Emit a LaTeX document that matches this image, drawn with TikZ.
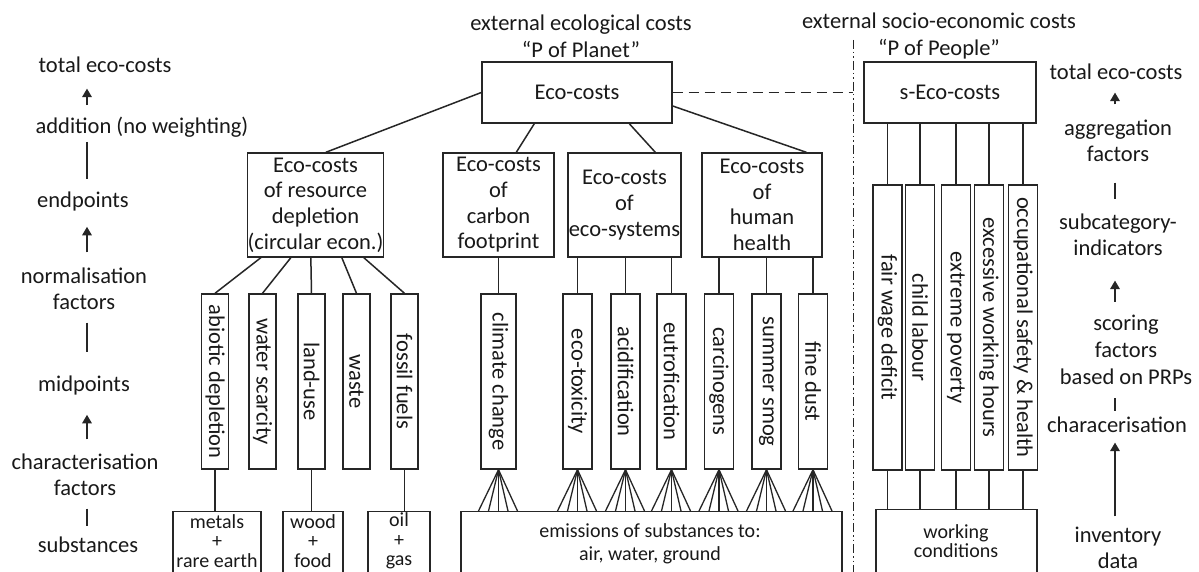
\documentclass[tikz,border=0pt]{standalone}
\usepackage{fontspec}
\setmainfont{Carlito}
\usetikzlibrary{arrows.meta,calc}
\begin{document}
\begin{tikzpicture}[x=1pt,y=-1pt,
  txt/.style={font=\fontsize{22.5}{26}\selectfont, align=center, inner sep=0pt, text=black!90},
  sm/.style={font=\fontsize{20}{19.5}\selectfont, align=center, inner sep=0pt, text=black!90},
  box/.style={draw=black!85, line width=1.4pt, inner sep=0pt, font=\fontsize{22.5}{25.7}\selectfont, align=center, text=black!90},
  vbox/.style={draw=black!85, line width=1.4pt, inner sep=0pt, rotate=-90, font=\fontsize{22.5}{26}\selectfont, text=black!90},
  ln/.style={draw=black!85, line width=1.5pt},
  fan/.style={draw=black!85, line width=1.3pt},
  arr/.style={draw=black!85, line width=1.6pt, -{Triangle[length=8.5pt,width=9.5pt]}},
  sepline/.style={draw=black!85, line width=1pt, dash pattern=on 9pt off 3pt on 1.5pt off 3pt on 1.5pt off 3pt},
  dline/.style={draw=black!85, line width=1.4pt, dash pattern=on 10pt off 6pt}
]
\path[use as bounding box] (0,0) rectangle (1199,572);
\clip (0,0) rectangle (1199,572);
\fill[white] (0,0) rectangle (1199,572);

% ---------- left column ----------
\coordinate (lax) at (87,0);
\node[txt] (lt) at (105,65) {total eco-costs};
\node[txt] (lad) at (142,127) {addition (no weighting)};
\node[txt] (lep) at (83,202) {endpoints};
\node[txt] (lnf) at (84,289) {normalisation\\factors};
\node[txt] (lmp) at (84,385) {midpoints};
\node[txt] (lcf) at (85,475) {characterisation\\factors};
\node[txt] (lsu) at (88,545) {substances};

\draw[arr, shorten <=11.5pt, shorten >=15.5pt] (lax |- lad.north) -- (lax |- lt.south);
\draw[ln, shorten <=4.5pt, shorten >=13pt] (lax |- lad.south) -- (lax |- lep.north);
\draw[arr, shorten <=15.5pt, shorten >=15pt] (lax |- lnf.north) -- (lax |- lep.south);
\draw[ln, shorten <=12.5pt, shorten >=23pt] (lax |- lnf.south) -- (lax |- lmp.north);
\draw[arr, shorten <=14.5pt, shorten >=20pt] (lax |- lcf.north) -- (lax |- lmp.south);
\draw[ln, shorten <=12.5pt, shorten >=10.5pt] (lax |- lcf.south) -- (lax |- lsu.north);

% ---------- right column ----------
\coordinate (rax) at (1115,0);
\node[txt] (rt) at (1116,72) {total eco-costs};
\node[txt] (rag) at (1118,141) {aggregation\\factors};
\node[txt] (rsi) at (1118,235) {subcategory-\\indicators};
\node[txt, font=\fontsize{22.5}{27}\selectfont] (rsf) at (1126,350) {scoring\\factors\\based on PRPs};
\node[txt] (rch) at (1117,425) {characerisation};
\node[txt] (rid) at (1118,548) {inventory\\data};

\draw[arr, shorten <=15.5pt, shorten >=12.5pt] (rax |- rag.north) -- (rax |- rt.south);
\draw[ln, shorten <=20.5pt, shorten >=14.5pt] (rax |- rag.south) -- (rax |- rsi.north);
\draw[arr, shorten <=13pt, shorten >=24.5pt] (rax |- rsf.north) -- (rax |- rsi.south);
\draw[ln, shorten <=13pt, shorten >=5.5pt] (rax |- rsf.south) -- (rax |- rch.north);
\draw[arr, shorten <=10.5pt, shorten >=9.5pt] (rax |- rid.north) -- (rax |- rch.south);

% ---------- headers ----------
\node[txt, font=\fontsize{22.5}{27}\selectfont] (hpl) at (581,36.5) {external ecological costs\\“P of Planet”};
\node[txt, font=\fontsize{22.5}{27}\selectfont] (hpe) at (939,36.5) {external socio-economic costs\\“P of People”};

% ---------- separator ----------
\coordinate (st) at (853,40);
\coordinate (sb) at (853,572);
\draw[sepline] (st) -- (sb);

% ---------- top boxes ----------
\node[box, minimum width=190, minimum height=61] (eco) at (577,92.5) {Eco-costs};
\node[box, minimum width=172, minimum height=61] (seco) at (950,92.5) {s-Eco-costs};
\draw[dline] (eco.east) -- (eco.east -| st);

% ---------- second level ----------
\node[box, minimum width=135, minimum height=104] (res) at (315.5,205) {Eco-costs\\of resource\\depletion\\(circular econ.)};
\node[box, minimum width=111, minimum height=104] (car) at (498.5,205) {Eco-costs\\of\\carbon\\footprint};
\node[box, minimum width=113, minimum height=104] (sys) at (624.5,205) {Eco-costs\\of\\eco-systems};
\node[box, minimum width=120, minimum height=104] (hh) at (762,205) {Eco-costs\\of\\human\\health};

\draw[ln] (eco.west) -- ($(res.north west)+(79,0)$);
\draw[ln] ($(eco.south west)+(53,0)$) -- ($(car.north west)+(74,0)$);
\draw[ln] ($(eco.south west)+(148,0)$) -- ($(sys.north west)+(88,0)$);
\draw[ln] ($(eco.east)+(0,13.5)$) -- ($(hh.north west)+(105,0)$);

% ---------- resource indicators ----------
\node[vbox, minimum width=175, minimum height=27] (abi) at (215,381.5) {abiotic depletion};
\node[vbox, minimum width=175, minimum height=27] (wat) at (262.5,381.5) {water scarcity};
\node[vbox, minimum width=175, minimum height=27] (lan) at (311.5,381.5) {land-use};
\node[vbox, minimum width=175, minimum height=27] (was) at (356.5,381.5) {waste};
\node[vbox, minimum width=175, minimum height=27] (fos) at (404.5,381.5) {fossil fuels};

\draw[ln] ($(res.south west)+(14,0)$) -- (abi.west);
\draw[ln] ($(res.south west)+(44,0)$) -- (wat.west);
\draw[ln] ($(res.south west)+(64,0)$) -- (lan.west);
\draw[ln] ($(res.south west)+(95,0)$) -- (was.west);
\draw[ln] ($(res.south west)+(117,0)$) -- (fos.west);

% ---------- planet indicators ----------
\node[vbox, minimum width=175, minimum height=35] (cc) at (498.5,381.5) {climate change};
\node[vbox, minimum width=175, minimum height=29] (tox) at (577.5,381.5) {eco-toxicity};
\node[vbox, minimum width=175, minimum height=29] (aci) at (625.5,381.5) {acidification};
\node[vbox, minimum width=175, minimum height=29] (eut) at (671.5,381.5) {eutrofication};
\node[vbox, minimum width=175, minimum height=29] (crc) at (719,381.5) {carcinogens};
\node[vbox, minimum width=175, minimum height=29] (smg) at (766.5,381.5) {summer smog};
\node[vbox, minimum width=175, minimum height=29] (fdu) at (813,381.5) {fine dust};

\draw[ln] (car.south -| cc.west) -- (cc.west);
\foreach \n in {tox,aci,eut} \draw[ln] (sys.south -| \n.west) -- (\n.west);
\foreach \n in {crc,smg,fdu} \draw[ln] (hh.south -| \n.west) -- (\n.west);

% ---------- social indicators ----------
\node[vbox, minimum width=285, minimum height=29] (fwd) at (887.5,327.5) {fair wage deficit};
\node[vbox, minimum width=285, minimum height=29] (chl) at (920,327.5) {child labour};
\node[vbox, minimum width=285, minimum height=29] (exp) at (956,327.5) {extreme poverty};
\node[vbox, minimum width=285, minimum height=29] (exw) at (989,327.5) {excessive working hours};
\node[vbox, minimum width=285, minimum height=29] (ocs) at (1023,327.5) {occupational safety \& health};

\foreach \n in {fwd,chl,exp,exw,ocs} \draw[ln] (seco.south -| \n.west) -- (\n.west);

% ---------- bottom boxes ----------
\node[box, anchor=north, minimum width=88, minimum height=90] (met) at (217,511) {};
\node[box, anchor=north, minimum width=60, minimum height=90] (woo) at (313,511) {};
\node[box, anchor=north, minimum width=62, minimum height=90] (oil) at (399,511) {};
\node[box, anchor=north, minimum width=381, minimum height=90] (em) at (651.5,511) {};
\node[box, anchor=north, minimum width=161, minimum height=90] (wc) at (956.5,509) {};

\node[sm] (mett) at (217,541) {metals\\+\\rare earth};
\node[sm] (woot) at (313,541) {wood\\+\\food};
\node[sm] (oilt) at (399,541) {oil\\+\\gas};
\node[txt, font=\fontsize{20}{23}\selectfont] (emt) at (650,544) {emissions of substances to:\\air, water, ground};
\node[sm] (wct) at (956,541) {working\\conditions};

\draw[ln] (abi.east) -- (met.north -| abi.east);
\draw[ln] (lan.east) -- (woo.north -| lan.east);
\draw[ln] (fos.east) -- (oil.north -| fos.east);

\foreach \n in {cc,tox,aci,eut,crc,smg,fdu}
  \foreach \d in {-20,-10,0,9.5,19}
    \draw[fan] (\n.east) -- ($(em.north -| \n.east)+(\d,0)$);

\foreach \n in {fwd,chl,exp,exw,ocs} \draw[ln] (\n.east) -- (wc.north -| \n.east);
\end{tikzpicture}
\end{document}
